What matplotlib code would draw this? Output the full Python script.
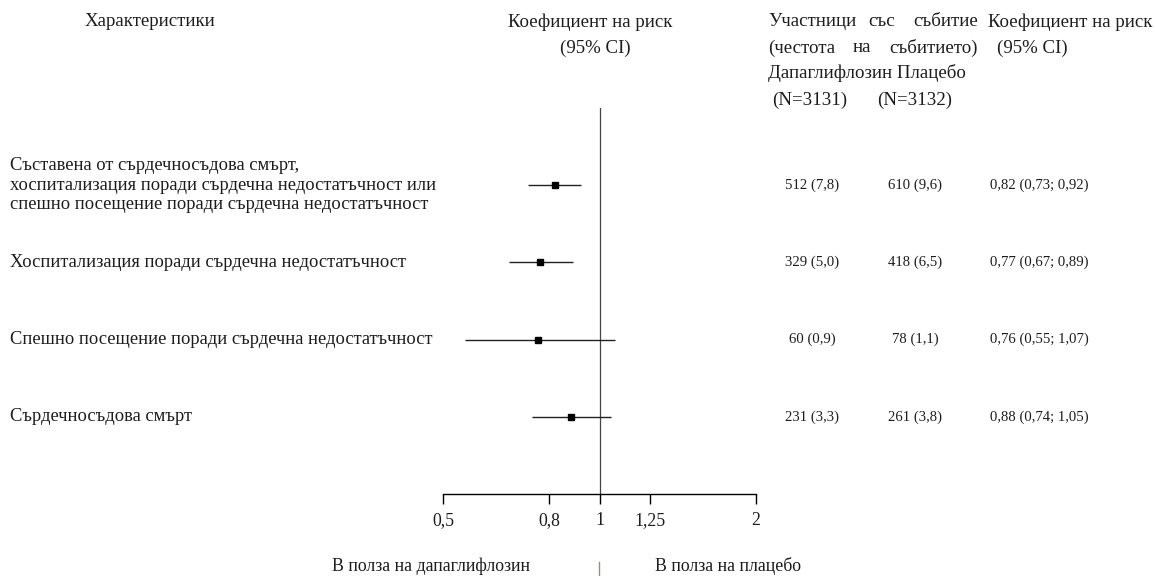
import matplotlib
matplotlib.use("Agg")
import matplotlib.pyplot as plt
import matplotlib.transforms as mtransforms
from matplotlib.lines import Line2D

plt.rcParams['font.family'] = ['Liberation Serif', 'DejaVu Serif']

# Outcomes and results
labels = [
    "Съставена от сърдечносъдова смърт,\nхоспитализация поради сърдечна недостатъчност или\nспешно посещение поради сърдечна недостатъчност",
    "Хоспитализация поради сърдечна недостатъчност",
    "Спешно посещение поради сърдечна недостатъчност",
    "Сърдечносъдова смърт",
]
hr = [0.82, 0.77, 0.76, 0.88]
ci_low = [0.73, 0.67, 0.55, 0.74]
ci_high = [0.92, 0.89, 1.07, 1.05]
dapa_events = [512, 329, 60, 231]
dapa_rate = [7.8, 5.0, 0.9, 3.3]
placebo_events = [610, 418, 78, 261]
placebo_rate = [9.6, 6.5, 1.1, 3.8]
tick_values = [0.5, 0.8, 1, 1.25, 2]
tick_labels = ["0,5", "0,8", "1", "1,25", "2"]

W, H = 1156, 576
TXT = "#1c1c1c"


def fx(x):
    return x / W


def fy(y):
    return 1 - y / H


def dec(v, nd):
    return f"{v:.{nd}f}".replace(".", ",")


fig = plt.figure(figsize=(W / 100, H / 100), dpi=100)
fig.patch.set_facecolor("white")

# forest panel: log axis 0.5..2, rows 0..3 top to bottom
ax = fig.add_axes([fx(443), fy(494), fx(756) - fx(443), fy(108) - fy(494)])
ax.set_xscale("log")
ax.set_xlim(0.5, 2)
ax.set_ylim(4.0, -1.0)
for s in ["top", "right", "left"]:
    ax.spines[s].set_visible(False)
ax.spines["bottom"].set_linewidth(1.0)
ax.set_yticks([])
ax.set_xticks(tick_values)
ax.set_xticklabels(tick_labels, fontsize=12.8, color=TXT)
ax.minorticks_off()
ax.tick_params(axis="x", direction="out", length=7, width=1, pad=6)
ax.patch.set_alpha(0)

ax.axvline(1, color="#444444", lw=0.9, zorder=1)

rows = list(range(len(hr)))
ax.hlines(rows, ci_low, ci_high, color="#222222", lw=1.0, zorder=2)
ax.plot(hr, rows, ls="none", marker="s", ms=4.5, color="black", zorder=3)

# table text positioned with figure x / data y
tr = mtransforms.blended_transform_factory(fig.transFigure, ax.transData)
for i in rows:
    ax.text(fx(10), i, labels[i], transform=tr, ha="left", va="center",
            fontsize=13.3, color=TXT, linespacing=1.2)
    ax.text(fx(812), i, f"{dapa_events[i]} ({dec(dapa_rate[i], 1)})", transform=tr,
            ha="center", va="center", fontsize=10.6, color=TXT)
    ax.text(fx(915), i, f"{placebo_events[i]} ({dec(placebo_rate[i], 1)})", transform=tr,
            ha="center", va="center", fontsize=10.6, color=TXT)
    ax.text(fx(990), i, f"{dec(hr[i], 2)} ({dec(ci_low[i], 2)}; {dec(ci_high[i], 2)})",
            transform=tr, ha="left", va="center", fontsize=10.6, color=TXT)

# headers
hs = 13.6
fig.text(fx(150), fy(22), "Характеристики", ha="center", va="center", fontsize=hs, color=TXT)
fig.text(fx(590), fy(22), "Коефициент на риск", ha="center", va="center", fontsize=hs, color=TXT)
fig.text(fx(595), fy(48), "(95% CI)", ha="center", va="center", fontsize=hs, color=TXT)

fig.text(fx(768), fy(22), "Участници", ha="left", va="center", fontsize=hs, color=TXT)
fig.text(fx(882), fy(22), "със", ha="center", va="center", fontsize=hs, color=TXT)
fig.text(fx(978), fy(22), "събитие", ha="right", va="center", fontsize=hs, color=TXT)
fig.text(fx(768), fy(48), "(честота", ha="left", va="center", fontsize=hs, color=TXT)
fig.text(fx(862), fy(48), "на", ha="center", va="center", fontsize=hs, color=TXT)
fig.text(fx(978), fy(48), "събитието)", ha="right", va="center", fontsize=hs, color=TXT)
fig.text(fx(768), fy(73), "Дапаглифлозин Плацебо", ha="left", va="center", fontsize=hs, color=TXT)
fig.text(fx(810), fy(100), "(N=3131)", ha="center", va="center", fontsize=hs, color=TXT)
fig.text(fx(915), fy(100), "(N=3132)", ha="center", va="center", fontsize=hs, color=TXT)

fig.text(fx(988), fy(22), "Коефициент на риск", ha="left", va="center", fontsize=hs, color=TXT)
fig.text(fx(1032), fy(48), "(95% CI)", ha="center", va="center", fontsize=hs, color=TXT)

# direction labels with a short divider at the null value
fig.text(fx(530), fy(566), "В полза на дапаглифлозин", ha="right", va="center", fontsize=12.8, color=TXT)
fig.add_artist(Line2D([fx(599), fx(599)], [fy(562), fy(576)], transform=fig.transFigure,
                      color="#9a8f80", lw=1.0))
fig.text(fx(655), fy(566), "В полза на плацебо", ha="left", va="center", fontsize=12.8, color=TXT)

fig.savefig("out.png", dpi=100, facecolor="white")
